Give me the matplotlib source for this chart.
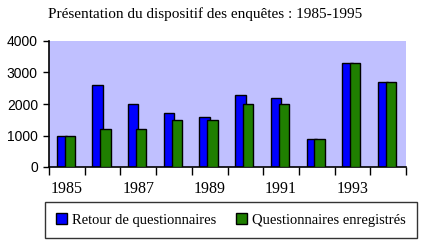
import numpy as np
import matplotlib.pyplot as plt

annees = [1985, 1986, 1987, 1988, 1989, 1990, 1991, 1992, 1993, 1994]
retour = [1000, 2600, 2000, 1700, 1600, 2300, 2200, 900, 3300, 2700]
enregistres = [1000, 1200, 1200, 1500, 1500, 2000, 2000, 900, 3300, 2700]
etiquettes = ["1985", "", "1987", "", "1989", "", "1991", "", "1993", ""]

serif = "Liberation Serif"
sans = "Liberation Sans"

fig = plt.figure(figsize=(4.21, 2.44), dpi=100)
ax = fig.add_axes([49/421, 1-167/244, 357/421, 126/244])
ax.set_facecolor("#C0C0FF")

x = np.arange(len(annees))
w = 0.29
ax.bar(x - 0.285, retour, w, align="edge", color="#0000FF", edgecolor="black", linewidth=1.0,
       label="Retour de questionnaires", zorder=2)
ax.bar(x - 0.065, enregistres, w, align="edge", color="#1F7F00", edgecolor="black", linewidth=1.0,
       label="Questionnaires enregistrés", zorder=3)

ax.set_xlim(-0.5, len(annees) - 0.5)
ax.set_ylim(0, 4000)
ax.set_yticks([0, 1000, 2000, 3000, 4000])
ax.set_yticklabels(["0", "1000", "2000", "3000", "4000"], fontfamily=sans, fontsize=10)

# graduations entre les categories, etiquettes au centre
ax.set_xticks(np.arange(len(annees) + 1) - 0.5)
ax.set_xticklabels([])
ax.set_xticks(x, minor=True)
ax.set_xticklabels(etiquettes, minor=True, fontfamily=serif, fontsize=11.5)
ax.tick_params(axis="x", which="major", direction="out", length=6, width=1, color="black")
ax.tick_params(axis="x", which="minor", length=0, pad=10)
ax.tick_params(axis="y", direction="out", length=4, width=1, pad=4)

for s in ["top", "right"]:
    ax.spines[s].set_visible(False)
for s in ["left", "bottom"]:
    ax.spines[s].set_linewidth(1.2)

fig.text(205/421, 1-14/244, "Présentation du dispositif des enquêtes : 1985-1995",
         fontfamily=serif, fontsize=11, ha="center", va="center")

leg = fig.legend(loc="center", bbox_to_anchor=(231/421, 1-220/244), ncol=2,
                 prop={"family": serif, "size": 10.5}, frameon=True, fancybox=False,
                 edgecolor="black", handlelength=0.7, handleheight=0.7, handletextpad=0.35,
                 columnspacing=1.4, borderpad=0.8, borderaxespad=0)
leg.get_frame().set_linewidth(1.0)

fig.savefig("out.png", dpi=100)
